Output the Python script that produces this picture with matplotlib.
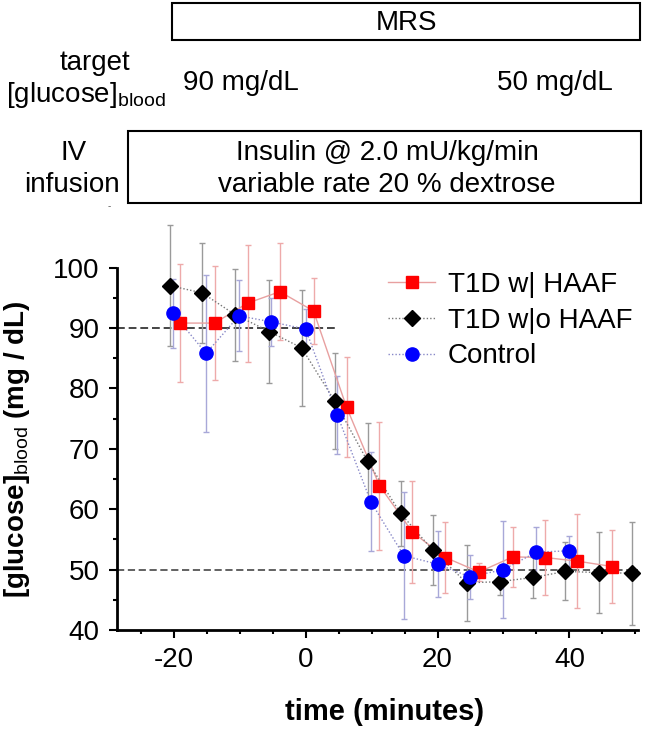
import matplotlib
matplotlib.use('Agg')
import matplotlib.pyplot as plt
from matplotlib.patches import Rectangle
from matplotlib.lines import Line2D
from matplotlib.ticker import MultipleLocator

plt.rcParams['font.family'] = ['Liberation Sans', 'DejaVu Sans']
plt.rcParams['mathtext.fontset'] = 'custom'
plt.rcParams['mathtext.rm'] = 'Liberation Sans'
plt.rcParams['mathtext.it'] = 'Liberation Sans:italic'
plt.rcParams['mathtext.bf'] = 'Liberation Sans:bold'
plt.rcParams['axes.unicode_minus'] = False

# ---------------- data ----------------
haaf_t = [-19.0, -13.8, -8.8, -3.9, 1.2, 6.2, 11.2, 16.2, 21.2, 26.3, 31.4, 36.3, 41.2, 46.5]
haaf_glc = [90.8, 90.8, 94.1, 96.0, 92.8, 76.9, 63.9, 56.2, 52.0, 49.6, 52.1, 52.0, 51.4, 50.5]
haaf_err = [9.7, 9.4, 9.7, 8.0, 5.5, 8.3, 10.6, 8.5, 5.8, 1.5, 5.0, 6.2, 7.8, 6.1]

nohaaf_t = [-20.6, -15.7, -10.7, -5.5, -0.6, 4.4, 9.4, 14.4, 19.3, 24.4, 29.4, 34.5, 39.4, 44.5, 49.5]
nohaaf_glc = [97.0, 95.8, 92.2, 89.4, 86.7, 77.9, 67.9, 59.3, 53.2, 47.8, 48.0, 48.7, 49.7, 49.5, 49.4]
nohaaf_err = [10.0, 8.3, 7.6, 8.6, 9.6, 8.0, 6.4, 5.4, 5.8, 6.3, 2.2, 3.4, 4.8, 6.7, 8.5]

ctrl_t = [-20.1, -15.1, -10.1, -5.2, 0.0, 4.8, 9.9, 14.9, 20.0, 24.9, 30.0, 35.0, 39.9]
ctrl_glc = [92.4, 85.8, 92.0, 91.0, 89.8, 75.6, 61.2, 52.3, 50.9, 48.8, 50.0, 52.9, 53.1]
ctrl_err = [5.7, 13.0, 5.9, 4.0, 3.3, 6.5, 8.2, 10.5, 5.5, 3.6, 8.0, 4.2, 2.5]

labels = ['T1D w| HAAF', 'T1D w|o HAAF', 'Control']
target_high = 90
target_low = 50
target_high_end = 4.5

x_major = [-20, 0, 20, 40]
y_major = [40, 50, 60, 70, 80, 90, 100]

# ---------------- figure ----------------
W, H = 645, 737
fig = plt.figure(figsize=(W / 100, H / 100), dpi=100)


def fx(px):
    return px / W


def fy(py):
    return 1 - py / H


ax = fig.add_axes([fx(117), fy(630), fx(638) - fx(117), fy(267.5) - fy(630)])
xmin, xmax = -28.6, 50.4
ax.set_xlim(xmin, xmax)
ax.set_ylim(40, 100)

# reference target lines
ax.plot([xmin, target_high_end], [target_high, target_high], color='#444444',
        lw=1.4, ls=(0, (4, 2)), zorder=1)
ax.plot([xmin, xmax], [target_low, target_low], color='#555555',
        lw=1.3, ls=(0, (4, 2)), zorder=1)

series = [
    (haaf_t, haaf_glc, haaf_err, 's', 8.5, '#ff0000', '#eeaaaa', '#e8a0a0', '-'),
    (nohaaf_t, nohaaf_glc, nohaaf_err, 'D', 8.5, '#000000', '#9a9a9a', '#777777', (0, (1, 1.5))),
    (ctrl_t, ctrl_glc, ctrl_err, 'o', 9.5, '#0000ff', '#a8a8d8', '#8888c8', (0, (1, 1.5))),
]

handles = []
for t, g, e, mk, ms, col, ecol, lcol, ls in series:
    cont = ax.errorbar(t, g, yerr=e, fmt='none', ecolor=ecol, elinewidth=1.0,
                       capsize=2.5, capthick=1.0, zorder=2)
    for a in list(cont[1]) + list(cont[2]):
        a.set_clip_on(False)
    ax.plot(t, g, color=lcol, lw=1.0, ls=ls, zorder=3, clip_on=False)
    ax.plot(t, g, ls='none', marker=mk, ms=ms, color=col, mec=col, zorder=4, clip_on=False)
    handles.append(Line2D([], [], color=lcol, lw=1.0, ls=ls, marker=mk, ms=ms,
                          mfc=col, mec=col))

ax.legend(handles, labels, loc='upper left', bbox_to_anchor=(fx(388), fy(272)),
          bbox_transform=fig.transFigure, frameon=False, fontsize=20,
          handlelength=1.7, handletextpad=0.45, labelspacing=0.35,
          borderpad=0, borderaxespad=0)

# axes styling
for s in ['top', 'right']:
    ax.spines[s].set_visible(False)
for s in ['left', 'bottom']:
    ax.spines[s].set_linewidth(2.0)
ax.set_xticks(x_major)
ax.set_yticks(y_major)
ax.xaxis.set_minor_locator(MultipleLocator(5))
ax.yaxis.set_minor_locator(MultipleLocator(5))
ax.tick_params(which='major', length=5.5, width=1.5, labelsize=20, pad=7)
ax.tick_params(which='minor', length=3, width=1.5)

fig.text(fx(385), fy(712), 'time (minutes)', ha='center', va='center',
         fontsize=21, fontweight='bold')
fig.text(fx(17), fy(449), r'[glucose]$_{\mathrm{blood}}$ (mg / dL)', rotation=90,
         ha='center', va='center', fontsize=20, fontweight='bold')

# ---------------- header ----------------
fig.add_artist(Rectangle((fx(172), fy(40)), fx(640) - fx(172), fy(3) - fy(40),
                         transform=fig.transFigure, fill=False, ec='black', lw=1.5))
fig.text(fx(407), fy(30), 'MRS', ha='center', va='baseline', fontsize=20)

fig.text(fx(95), fy(70), 'target', ha='center', va='baseline', fontsize=20)
fig.text(fx(6), fy(102), r'[glucose]$_{\mathrm{blood}}$', ha='left', va='baseline', fontsize=20)
fig.text(fx(241), fy(90), '90 mg/dL', ha='center', va='baseline', fontsize=20)
fig.text(fx(555), fy(90), '50 mg/dL', ha='center', va='baseline', fontsize=20)

fig.add_artist(Rectangle((fx(128), fy(203)), fx(641) - fx(128), fy(131) - fy(203),
                         transform=fig.transFigure, fill=False, ec='black', lw=1.5))
fig.text(fx(74), fy(160), 'IV', ha='center', va='baseline', fontsize=20)
fig.text(fx(72), fy(192), 'infusion', ha='center', va='baseline', fontsize=20)
fig.text(fx(387), fy(160), 'Insulin @ 2.0 mU/kg/min', ha='center', va='baseline', fontsize=20)
fig.text(fx(387), fy(192), 'variable rate 20 % dextrose', ha='center', va='baseline', fontsize=20)
fig.text(fx(109), fy(209), '-', ha='center', va='baseline', fontsize=7, color='#555555')

fig.savefig('out.png', dpi=100)
